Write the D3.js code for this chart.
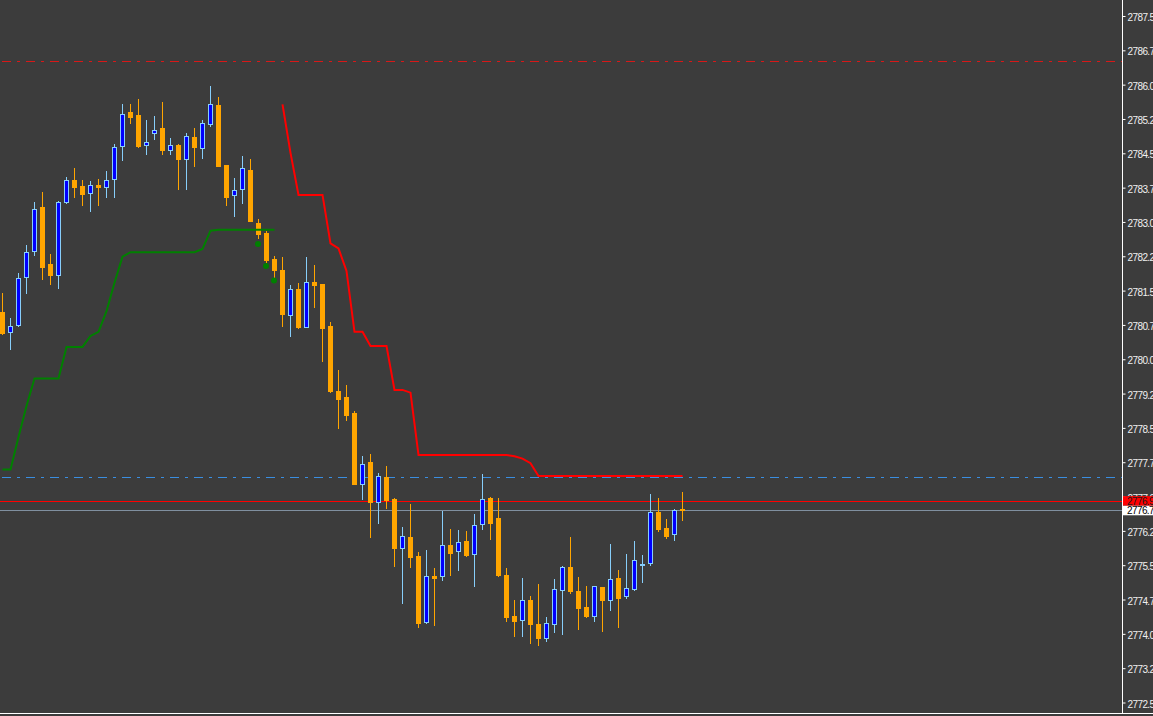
<!DOCTYPE html>
<html><head><meta charset="utf-8">
<script src="https://cdn.jsdelivr.net/npm/d3@7"></script>
<style>html,body{margin:0;padding:0;background:#3c3c3c;overflow:hidden}</style>
</head><body>
<svg id="c" width="1153" height="716"></svg>
<script>
// ---- data (candle index 0..85, prices) ----
const opens  = [2781.03,2780.60,2780.75,2781.79,2782.36,2783.33,2782.08,2781.83,2783.43,2783.92,
                2783.79,2783.63,2783.80,2783.76,2783.93,2784.65,2785.40,2785.33,2784.68,2784.94,
                2785.05,2784.58,2784.68,2784.37,2784.85,2784.62,2785.15,2785.56,2784.24,2783.58,
                2783.71,2784.14,2782.97,2782.75,2782.18,2781.95,2780.97,2781.54,2780.71,2781.69,
                2781.64,2780.73,2779.30,2779.18,2778.83,2777.28,2777.75,2776.87,2777.42,2776.95,
                2775.87,2776.11,2775.70,2774.25,2775.26,2775.26,2775.94,2775.80,2776.02,2775.74,
                2776.39,2776.96,2776.53,2775.28,2774.39,2774.30,2774.73,2774.21,2773.90,2774.22,
                2774.95,2775.45,2774.93,2774.59,2774.38,2775.02,2774.73,2775.21,2774.83,2774.97,
                2775.50,2775.54,2776.66,2776.31,2776.18,2776.73];
const highs  = [2781.44,2780.91,2781.89,2782.50,2783.44,2783.65,2782.30,2783.46,2783.98,2784.18,
                2783.92,2783.90,2783.94,2784.11,2784.70,2785.58,2785.58,2785.69,2785.23,2785.32,
                2785.61,2784.83,2784.70,2784.94,2785.05,2785.23,2785.97,2785.73,2784.25,2783.96,
                2784.44,2784.38,2783.06,2782.80,2782.26,2782.23,2781.62,2781.67,2782.23,2782.06,
                2781.65,2780.81,2779.77,2779.44,2778.87,2777.89,2777.93,2777.51,2777.67,2776.96,
                2776.33,2776.84,2775.78,2775.83,2775.44,2776.69,2776.29,2776.27,2776.25,2776.62,
                2777.49,2776.98,2776.97,2775.44,2774.74,2775.22,2774.82,2775.09,2774.36,2775.20,
                2775.48,2776.12,2775.24,2775.05,2775.05,2775.03,2775.96,2775.40,2775.75,2776.03,
                2775.72,2777.06,2776.97,2776.50,2776.72,2777.10];
const lows   = [2780.55,2780.23,2780.73,2781.45,2782.28,2781.76,2781.64,2781.56,2783.41,2783.55,
                2783.36,2783.25,2783.38,2783.55,2783.55,2784.36,2785.17,2784.64,2784.49,2784.82,
                2784.49,2784.49,2783.71,2783.73,2784.23,2784.40,2785.10,2784.22,2783.38,2783.12,
                2783.42,2783.02,2782.65,2782.13,2781.79,2780.73,2780.51,2780.68,2780.70,2781.15,
                2779.97,2779.29,2778.50,2778.67,2777.27,2776.94,2776.11,2776.42,2776.74,2775.49,
                2774.68,2775.45,2774.14,2774.24,2774.20,2775.17,2775.29,2775.40,2775.71,2775.05,
                2776.30,2776.07,2775.26,2774.27,2773.96,2773.96,2773.81,2773.76,2773.85,2774.04,
                2774.00,2774.90,2774.11,2774.37,2774.27,2774.07,2774.53,2774.16,2774.79,2774.96,
                2775.14,2775.50,2776.25,2776.10,2776.04,2776.49];
const closes = [2780.58,2780.73,2781.77,2782.34,2783.28,2782.02,2781.83,2783.43,2783.91,2783.77,
                2783.60,2783.80,2783.77,2783.92,2784.63,2785.35,2785.30,2784.67,2784.74,2785.02,
                2784.58,2784.68,2784.38,2784.87,2784.64,2785.16,2785.57,2784.23,2783.55,2783.69,
                2784.17,2783.03,2782.74,2782.17,2781.96,2780.99,2781.54,2780.71,2781.69,2781.63,
                2780.69,2779.31,2779.14,2778.79,2777.28,2777.71,2776.87,2777.44,2776.93,2775.88,
                2776.13,2775.69,2774.23,2775.26,2775.23,2775.94,2775.77,2776.00,2775.72,2776.37,
                2776.94,2776.42,2775.28,2774.36,2774.29,2774.73,2774.22,2773.90,2774.23,2774.97,
                2775.47,2774.94,2774.57,2774.38,2775.04,2774.73,2775.19,2774.79,2775.00,2775.61,
                2775.52,2776.66,2776.30,2776.14,2776.70,2776.70];

// green trailing line: candles 0..34
const greenStart = 0;
const greenValues = [2777.59,2777.59,2778.30,2778.98,2779.58,2779.58,2779.58,2779.58,2780.27,2780.27,
                     2780.27,2780.51,2780.60,2781.05,2781.67,2782.24,2782.34,2782.34,2782.34,2782.34,
                     2782.34,2782.34,2782.34,2782.34,2782.34,2782.41,2782.81,2782.83,2782.83,2782.83,
                     2782.83,2782.83,2782.83,2782.83,2782.83];
// red trailing line: candles 35..85
const redStart = 35;
const redValues = [2785.57,2784.51,2783.59,2783.59,2783.59,2783.59,2782.53,2782.42,2781.93,2780.60,
                   2780.60,2780.29,2780.29,2780.29,2779.33,2779.33,2779.27,2777.91,2777.91,2777.91,
                   2777.91,2777.91,2777.91,2777.91,2777.91,2777.91,2777.91,2777.91,2777.91,2777.88,
                   2777.83,2777.73,2777.45,2777.45,2777.45,2777.45,2777.45,2777.45,2777.45,2777.45,
                   2777.45,2777.45,2777.45,2777.45,2777.45,2777.45,2777.45,2777.45,2777.45,2777.45,
                   2777.45];
// green signal dots
const dotIndex  = [32, 33, 34];
const dotValues = [2782.52, 2782.04, 2781.72];

// horizontal levels
const askPrice = 2776.91;
const bidPrice = 2776.70;
const blueLevel = 2777.43;
const redLevel = 2786.51;

// price axis ticks
const tickValues = [2787.50,2786.75,2786.00,2785.25,2784.50,2783.75,2783.00,2782.25,2781.50,2780.75,
                    2780.00,2779.25,2778.50,2777.75,2777.00,2776.25,2775.50,2774.75,2774.00,2773.25,2772.50];
const tickLabels = ["2787.50","2786.75","2786.00","2785.25","2784.50","2783.75","2783.00","2782.25","2781.50","2780.75",
                    "2780.00","2779.25","2778.50","2777.75","2777.00","2776.25","2775.50","2774.75","2774.00","2773.25","2772.50"];

// ---- drawing ----
const W = 1153, H = 716, axisX = 1122.5, bottomY = 713.5;
const svg = d3.select("#c");
svg.append("rect").attr("width", W).attr("height", H).attr("fill", "#3c3c3c");

const candles = opens.map((o, i) => ({i, o, h: highs[i], l: lows[i], c: closes[i]}));
const x = d3.scaleLinear().domain([0, 85]).range([2.5, 682.5]);
const y = d3.scaleLinear().domain([2772.5, 2787.5]).range([702.5, 16]);

const BULL_FILL = "#0000ff", BULL_LINE = "#87cefa", BEAR = "#ffa500";
const FONT = "'Liberation Sans', Arial, sans-serif";

// level lines (behind candles)
function hline(p, color, dash) {
  const yy = Math.round(y(p)) + 0.5;
  const l = svg.append("line").attr("x1", 0).attr("x2", axisX).attr("y1", yy).attr("y2", yy)
    .attr("stroke", color).attr("stroke-width", 1);
  if (dash) l.attr("stroke-dasharray", dash).attr("stroke-dashoffset", -2);
}
hline(redLevel, "#d81818", "9,6,3,6");
hline(blueLevel, "#3a8ee0", "9,6,3,6");
hline(askPrice, "#ff0000");
hline(bidPrice, "#8090a0");

// wicks
svg.append("g").selectAll("line").data(candles).join("line")
  .attr("x1", d => Math.round(x(d.i) - 2.5) + 2.5)
  .attr("x2", d => Math.round(x(d.i) - 2.5) + 2.5)
  .attr("y1", d => Math.round(y(d.h)))
  .attr("y2", d => Math.round(y(d.l)) + 1)
  .attr("stroke", d => d.c >= d.o ? BULL_LINE : BEAR)
  .attr("stroke-width", 1);

// bodies
svg.append("g").selectAll("rect").data(candles).join("rect")
  .attr("x", d => Math.round(x(d.i) - 2.5) + 0.5)
  .attr("width", 4)
  .attr("y", d => Math.round(y(Math.max(d.o, d.c))) + 0.5)
  .attr("height", d => Math.max(Math.round(y(Math.min(d.o, d.c))) - Math.round(y(Math.max(d.o, d.c))), 1))
  .attr("fill", d => d.c >= d.o ? BULL_FILL : BEAR)
  .attr("stroke", d => d.c >= d.o ? BULL_LINE : BEAR)
  .attr("stroke-width", 1);

// indicator lines
const line = d3.line().x(d => x(d.i)).y(d => y(d.v));
svg.append("path")
  .datum(greenValues.map((v, j) => ({i: greenStart + j, v})))
  .attr("d", line).attr("fill", "none").attr("stroke", "#008000").attr("stroke-width", 2);
svg.append("path")
  .datum(redValues.map((v, j) => ({i: redStart + j, v})))
  .attr("d", line).attr("fill", "none").attr("stroke", "#ff0000").attr("stroke-width", 2);

svg.append("g").selectAll("circle").data(dotIndex.map((k, j) => ({i: k, v: dotValues[j]}))).join("circle")
  .attr("cx", d => x(d.i) - 0.5).attr("cy", d => y(d.v)).attr("r", 3).attr("fill", "#008000");

// axis
svg.append("line").attr("x1", axisX).attr("x2", axisX).attr("y1", 0).attr("y2", bottomY)
  .attr("stroke", "#ffffff").attr("stroke-width", 1);
svg.append("line").attr("x1", 0).attr("x2", W).attr("y1", bottomY).attr("y2", bottomY)
  .attr("stroke", "#ffffff").attr("stroke-width", 1);

const axis = d3.axisRight(y).tickValues(tickValues).tickSize(3).tickPadding(2)
  .tickFormat((d, j) => tickLabels[j]);
const ag = svg.append("g").attr("transform", `translate(${axisX},0)`).call(axis);
ag.select(".domain").remove();
ag.selectAll(".tick line").attr("stroke", "#ffffff");
ag.selectAll(".tick text").attr("fill", "#f0f0f0").attr("dy", "0.45em")
  .style("font-family", FONT).style("font-size", "10px")
  .style("letter-spacing", "-0.6px");

// price labels
function priceLabel(p, bg, fg) {
  const yy = y(p);
  svg.append("rect").attr("x", axisX + 0.5).attr("y", yy - 4.5).attr("width", W - axisX).attr("height", 9.5).attr("fill", bg);
  svg.append("text").attr("x", axisX + 4.5).attr("y", yy + 4).text(d3.format(".2f")(p))
    .attr("fill", fg).style("font-family", FONT).style("font-size", "10px")
    .style("letter-spacing", "-0.6px");
}
priceLabel(askPrice, "#ff0000", "#1a1a1a");
priceLabel(bidPrice, "#ffffff", "#000000");
</script>
</body></html>
